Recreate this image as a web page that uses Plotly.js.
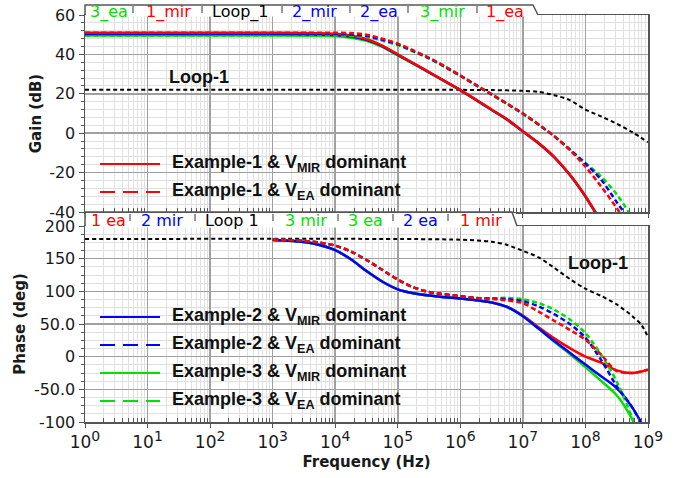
<!DOCTYPE html>
<html><head><meta charset="utf-8">
<script src="https://cdn.plot.ly/plotly-3.0.1.min.js"></script>
<style>html,body{margin:0;padding:0;background:#fff}#chart{width:690px;height:478px}</style>
</head><body><div id="chart"></div>
<script>
// ================= DATA =================
// Gain (dB) vs frequency (Hz)
const freqGainMir = [1, 1e3, 3.16e3, 1e4, 1.78e4, 3.16e4, 5.62e4, 1e5, 1.78e5, 3.16e5, 5.62e5, 1e6, 1.78e6, 3.16e6, 5.62e6, 1e7, 1.78e7, 3.16e7, 5.62e7, 1e8, 1.78e8];
const ex1GainMir = [51.0, 51.0, 50.9, 50.5, 49.6, 47.8, 44.5, 40.0, 35.5, 31.0, 26.5, 22.0, 17.0, 12.0, 7.0, 1.0, -5.0, -12.0, -21.0, -32.0, -45.0];
const ex2GainMir = [50.3, 50.3, 50.2, 49.9, 49.1, 47.4, 44.2, 39.8, 35.4, 30.9, 26.4, 21.9, 16.9, 11.9, 6.9, 0.9, -5.1, -12.1, -21.1, -32.1, -45.0];
const ex3GainMir = [49.6, 49.6, 49.5, 49.2, 48.5, 46.9, 43.8, 39.5, 35.2, 30.8, 26.3, 21.8, 16.8, 11.8, 6.8, 0.8, -5.2, -12.2, -21.2, -32.2, -45.0];

const freqGainEa = [1, 1e3, 1e4, 1.78e4, 3.16e4, 5.62e4, 1e5, 1.78e5, 3.16e5, 5.62e5, 1e6, 1.78e6, 3.16e6, 5.62e6, 1e7, 1.78e7, 3.16e7, 5.62e7, 1e8, 1.78e8, 3.16e8, 5.62e8];
const ex1GainEa = [51.0, 51.0, 51.0, 50.8, 50.0, 48.0, 45.5, 42.0, 38.3, 34.0, 29.3, 24.5, 19.8, 15.0, 10.0, 4.5, -1.5, -8.5, -17.0, -27.0, -38.0, -50.0];
const ex2GainEa = [50.3, 50.3, 50.3, 50.1, 49.4, 47.5, 45.1, 41.7, 38.1, 33.8, 29.2, 24.4, 19.7, 14.9, 9.9, 4.4, -1.5, -8.3, -15.5, -23.5, -35.0, -46.0];
const ex3GainEa = [49.6, 49.6, 49.6, 49.4, 48.8, 47.0, 44.7, 41.4, 37.9, 33.6, 29.1, 24.3, 19.6, 14.8, 9.8, 4.3, -1.5, -8.2, -15.0, -22.0, -31.0, -43.0];

const freqLoopGain = [1, 1e6, 3.16e6, 1e7, 1.78e7, 3.16e7, 5.62e7, 1e8, 1.78e8, 3.16e8, 5.62e8, 1e9];
const loopGain = [22.0, 22.0, 21.9, 21.5, 21.0, 19.3, 16.8, 12.0, 8.5, 4.8, 0.5, -4.6];

// Phase (deg) vs frequency (Hz)
const freqPhase = [1e3, 1.78e3, 3.16e3, 5.62e3, 1e4, 1.78e4, 3.16e4, 5.62e4, 1e5, 1.78e5, 3.16e5, 5.62e5, 1e6, 1.78e6, 3.16e6, 5.62e6, 1e7, 1.78e7, 3.16e7, 5.62e7, 1e8, 1.78e8, 3.16e8, 5.62e8, 1e9];
const ex1PhaseMir = [178.5, 177.5, 175.5, 171, 163, 149, 131, 115, 103, 97, 93.5, 91, 89, 86.5, 83, 76, 63, 45, 28, 13, 0, -9, -21, -25, -20];
const ex2PhaseMir = [178.5, 177.5, 175.5, 171, 163, 149, 131, 115, 103, 97, 93.5, 91, 89, 86.5, 83, 76, 62, 43, 24, 6, -12, -30, -48, -78, -120];
const ex3PhaseMir = [178.5, 177.5, 175.5, 171, 163, 149, 131, 115, 103, 97, 93.5, 91, 89, 86.5, 83, 76, 62, 43, 23, 4, -16, -37, -59, -96, -150];
const ex1PhaseEa = [179, 178.5, 177, 174.5, 170, 161, 148, 133, 118, 106, 99, 95.5, 92.5, 90, 88.5, 86, 82, 69, 55, 41, 26, 3, -22, -25, -20];
const ex2PhaseEa = [179, 178.5, 177, 174.5, 170, 161, 148, 133, 118, 106, 99, 95.5, 92.5, 90, 89, 88, 85, 77, 65, 50, 29, -5, -45, -78, -120];
const ex3PhaseEa = [179, 178.5, 177, 174.5, 170, 161, 148, 133, 118, 106, 99, 95.5, 92.5, 90, 89, 90, 88, 82, 72, 57, 36, 3, -38, -94, -160];

const freqLoopPhase = [1, 1e6, 3.16e6, 5.62e6, 1e7, 1.78e7, 3.16e7, 5.62e7, 1e8, 1.78e8, 3.16e8, 5.62e8, 7.94e8, 1e9];
const loopPhase = [180, 179, 176, 171, 162, 152, 136, 119, 104, 93, 80, 62, 48, 30];

// Axis tick labels
const freqTicks = [1, 10, 100, 1e3, 1e4, 1e5, 1e6, 1e7, 1e8, 1e9];
const freqExp = ['0', '1', '2', '3', '4', '5', '6', '7', '8', '9'];
const gainTicks = [-40, -20, 0, 20, 40, 60];
const gainTickText = ['-40', '-20', '0', '20', '40', '60'];
const phaseTicks = [-100, -50, 0, 50, 100, 150, 200];
const phaseTickText = ['-100', '-50.0', '0', '50.0', '100', '150', '200'];

// Tab labels (top = gain plot, bottom = phase plot)
const topTabLabels = ['3_ea', '1_mir', 'Loop_1', '2_mir', '2_ea', '3_mir', '1_ea'];
const topTabSeries = ['ex3', 'ex1', 'loop', 'ex2', 'ex2', 'ex3', 'ex1'];
const botTabLabels = ['1 ea', '2 mir', 'Loop 1', '3 mir', '3 ea', '2 ea', '1 mir'];
const botTabSeries = ['ex1', 'ex2', 'loop', 'ex3', 'ex3', 'ex2', 'ex1'];

// ================= STYLE =================
const COL = {ex1: '#ff0000', ex2: '#0000ff', ex3: '#00e000', loop: '#000000'};
const LW = 2.5;
const DASH = '5px,3px';
const DOT = '4px,3px';

// pixel -> paper helpers (plot area 85..648 x 15..422)
const L = 85, R = 648, T = 15, B = 422;
const px = x => (x - L) / (R - L);
const py = y => (B - y) / (B - T);

function tr(x, y, color, dash, axes, width) {
  return {x: x, y: y, type: 'scatter', mode: 'lines', xaxis: axes[0], yaxis: axes[1], showlegend: false,
    hoverinfo: 'skip', line: {color: color, width: width || LW, dash: dash, shape: 'spline', smoothing: 0.8}};
}
const G = ['x2', 'y2'], P = ['x', 'y'];
const data = [
  tr(freqLoopGain, loopGain, COL.loop, DOT, G, 2),
  tr(freqGainMir, ex3GainMir, COL.ex3, 'solid', G),
  tr(freqGainMir, ex2GainMir, COL.ex2, 'solid', G),
  tr(freqGainMir, ex1GainMir, COL.ex1, 'solid', G),
  tr(freqGainEa, ex3GainEa, COL.ex3, DASH, G),
  tr(freqGainEa, ex2GainEa, COL.ex2, DASH, G),
  tr(freqGainEa, ex1GainEa, COL.ex1, DASH, G),
  tr(freqLoopPhase, loopPhase, COL.loop, DOT, P, 2),
  tr(freqPhase, ex1PhaseMir, COL.ex1, 'solid', P),
  tr(freqPhase, ex3PhaseMir, COL.ex3, 'solid', P),
  tr(freqPhase, ex2PhaseMir, COL.ex2, 'solid', P),
  tr(freqPhase, ex3PhaseEa, COL.ex3, DASH, P),
  tr(freqPhase, ex2PhaseEa, COL.ex2, DASH, P),
  tr(freqPhase, ex1PhaseEa, COL.ex1, DASH, P)
];

const TICKFONT = {family: 'DejaVu Sans, Verdana, sans-serif', size: 16, color: '#1a1a1a'};
const XTICKFONT = {family: 'DejaVu Sans, Verdana, sans-serif', size: 17, color: '#1a1a1a'};
const TITLEFONT = {family: 'DejaVu Sans, Verdana, sans-serif', size: 15, color: '#1a1a1a', weight: 'bold'};
const MAJ = '#a0a0a0', MIN = '#e0e0e0', FRAME = '#555555';

const freqTickText = freqExp.map(e => '10<sup><span style="font-size:14px">' + e + '</span></sup>');
const xMinor = [];
for (let d = 0; d < 9; d++) for (let k = 2; k <= 9; k++) xMinor.push(k * Math.pow(10, d));
const gMinor = []; for (let v = -40; v <= 60; v += 4) if (v % 20 !== 0) gMinor.push(v);
const pMinor = []; for (let v = -100; v <= 200; v += 12.5) if (v % 50 !== 0) pMinor.push(v);

function xAxis(anchor, labels) {
  return {type: 'log', range: [0, 9], anchor: anchor, tickmode: 'array', tickvals: freqTicks, ticktext: freqTickText,
    showticklabels: labels, tickfont: XTICKFONT, ticks: 'outside', ticklen: 4, tickcolor: FRAME,
    showgrid: true, gridcolor: MAJ, gridwidth: 1.5, zeroline: false,
    showline: true, mirror: true, linecolor: FRAME, linewidth: 1.5,
    minor: {tickmode: 'array', tickvals: xMinor, showgrid: true, gridcolor: MIN, gridwidth: 1, ticks: 'inside', ticklen: 4, tickcolor: FRAME},
    title: labels ? {text: 'Frequency (Hz)', font: TITLEFONT, standoff: 5} : {text: ''}};
}
function yAxis(domain, anchor, range, tv, tt, minor, title) {
  return {domain: domain, anchor: anchor, range: range, tickmode: 'array', tickvals: tv, ticktext: tt,
    tickfont: TICKFONT, ticks: 'outside', ticklen: 5, tickcolor: FRAME,
    showgrid: true, gridcolor: MAJ, gridwidth: 1.5, zeroline: false,
    showline: true, mirror: true, linecolor: FRAME, linewidth: 1.5,
    minor: {tickmode: 'array', tickvals: minor, showgrid: true, gridcolor: MIN, gridwidth: 1, ticks: 'outside', ticklen: 3, tickcolor: FRAME},
    title: {text: title, font: TITLEFONT, standoff: 4}};
}

const shapes = [];
const annotations = [];
const TABLINE = {color: FRAME, width: 1.5};
// top tab
shapes.push({type: 'rect', xref: 'paper', yref: 'paper', x0: px(85.5), x1: px(537), y0: py(16.5), y1: py(5), fillcolor: '#ffffff', line: {width: 0}, layer: 'above'});
shapes.push({type: 'path', xref: 'paper', yref: 'paper', layer: 'above', line: TABLINE,
  path: `M ${px(85)} ${py(15)} L ${px(85)} ${py(5)} L ${px(533)} ${py(5)} L ${px(538)} ${py(15)}`});
// bottom tab
shapes.push({type: 'rect', xref: 'paper', yref: 'paper', x0: px(85.5), x1: px(516), y0: py(227.5), y1: py(213), fillcolor: '#ffffff', line: {width: 0}, layer: 'above'});
shapes.push({type: 'path', xref: 'paper', yref: 'paper', layer: 'above', line: TABLINE,
  path: `M ${px(85)} ${py(226)} L ${px(85)} ${py(212)} L ${px(512)} ${py(212)} L ${px(517)} ${py(226)}`});

const topTabX = [109, 168, 240, 314, 379, 442, 505];
const topSepX = [133, 202, 282, 350, 408, 477];
const botTabX = [108, 162, 232, 306, 365, 420, 481];
const botSepX = [130, 195, 273, 338, 393, 448];
const TABFONT = {family: 'DejaVu Sans, Verdana, sans-serif', size: 16};
topTabLabels.forEach((t, i) => annotations.push({xref: 'paper', yref: 'paper', x: px(topTabX[i]), y: py(12), text: t,
  showarrow: false, xanchor: 'center', yanchor: 'middle', font: Object.assign({color: COL[topTabSeries[i]]}, TABFONT)}));
botTabLabels.forEach((t, i) => annotations.push({xref: 'paper', yref: 'paper', x: px(botTabX[i]), y: py(220), text: t,
  showarrow: false, xanchor: 'center', yanchor: 'middle', font: Object.assign({color: COL[botTabSeries[i]]}, TABFONT)}));
topSepX.forEach(x => shapes.push({type: 'line', xref: 'paper', yref: 'paper', layer: 'above', x0: px(x), x1: px(x), y0: py(6), y1: py(13), line: {color: FRAME, width: 1.2}}));
botSepX.forEach(x => shapes.push({type: 'line', xref: 'paper', yref: 'paper', layer: 'above', x0: px(x), x1: px(x), y0: py(214), y1: py(221), line: {color: FRAME, width: 1.2}}));

// Loop-1 labels
const LBLFONT = {family: 'Liberation Sans, Arial, sans-serif', size: 18, color: '#111'};
annotations.push({xref: 'paper', yref: 'paper', x: px(199), y: py(77), text: '<b>Loop-1</b>', showarrow: false, xanchor: 'center', yanchor: 'middle', font: LBLFONT});
annotations.push({xref: 'paper', yref: 'paper', x: px(598), y: py(263), text: '<b>Loop-1</b>', showarrow: false, xanchor: 'center', yanchor: 'middle', font: LBLFONT});

// Custom legends
const legendRows = [
  {s: 'ex1', d: 'solid', y: 164, t: 'Example-1 &amp; V<sub>MIR</sub> dominant'},
  {s: 'ex1', d: '15px,8px', y: 192, t: 'Example-1 &amp; V<sub>EA</sub> dominant'},
  {s: 'ex2', d: 'solid', y: 317, t: 'Example-2 &amp; V<sub>MIR</sub> dominant'},
  {s: 'ex2', d: '15px,8px', y: 345, t: 'Example-2 &amp; V<sub>EA</sub> dominant'},
  {s: 'ex3', d: 'solid', y: 373, t: 'Example-3 &amp; V<sub>MIR</sub> dominant'},
  {s: 'ex3', d: '15px,8px', y: 401, t: 'Example-3 &amp; V<sub>EA</sub> dominant'}
];
legendRows.forEach(r => {
  shapes.push({type: 'line', xref: 'paper', yref: 'paper', layer: 'above', x0: px(100), x1: px(160), y0: py(r.y), y1: py(r.y), line: {color: COL[r.s], width: 2, dash: r.d}});
  annotations.push({xref: 'paper', yref: 'paper', x: px(170), y: py(r.y - 1), text: '<b>' + r.t + '</b>', showarrow: false, xanchor: 'left', yanchor: 'middle', font: LBLFONT});
});

const layout = {
  width: 690, height: 478,
  margin: {l: L, r: 690 - R, t: T, b: 478 - B},
  paper_bgcolor: '#ffffff', plot_bgcolor: '#ffffff',
  showlegend: false,
  xaxis: xAxis('y', true),
  yaxis: yAxis([0, py(226)], 'x', [-100, 200], phaseTicks, phaseTickText, pMinor, 'Phase (deg)'),
  xaxis2: Object.assign(xAxis('y2', false), {matches: 'x'}),
  yaxis2: yAxis([py(212), 1], 'x2', [-40, 60], gainTicks, gainTickText, gMinor, 'Gain (dB)'),
  shapes: shapes,
  annotations: annotations
};

Plotly.newPlot('chart', data, layout, {staticPlot: true, displayModeBar: false});
</script>
</body></html>
